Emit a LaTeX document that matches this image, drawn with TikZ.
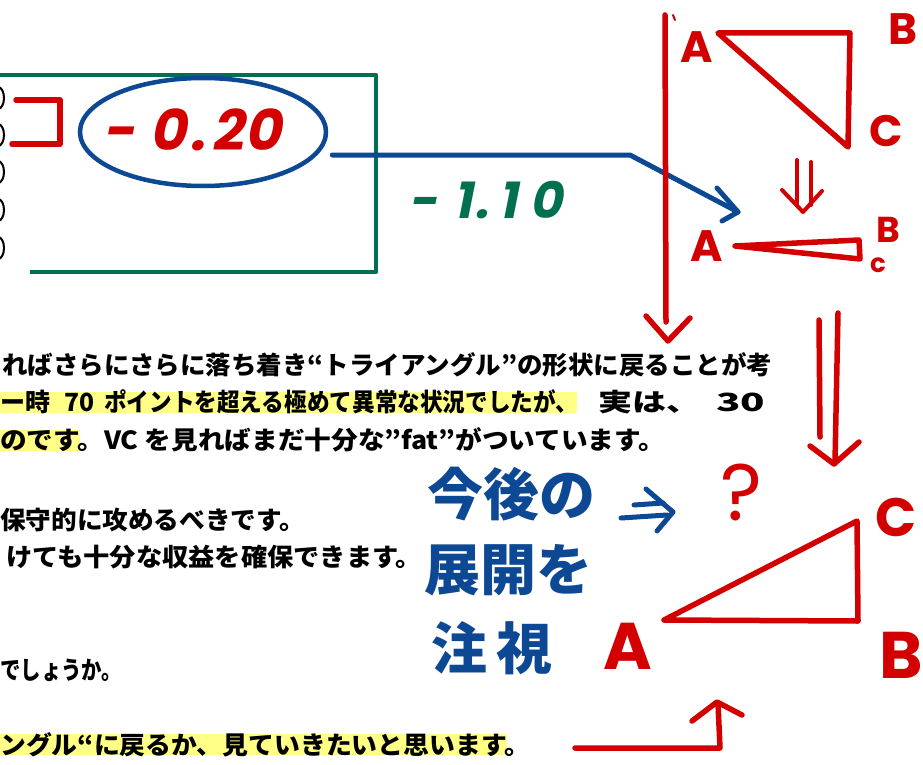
\documentclass[tikz,border=0pt]{standalone}
\usepackage{graphicx}
\usepackage{fontspec}
\setmainfont{Liberation Sans}
\newfontfamily\jpb{Noto Sans CJK JP}
\newfontfamily\hand{Poppins}
\newfontfamily\handsl[FakeSlant=0.2]{Poppins}
\usetikzlibrary{shapes.geometric}
\definecolor{penred}{RGB}{210,0,0}
\definecolor{penblue}{RGB}{12,72,148}
\definecolor{pengreen}{RGB}{0,112,80}
\definecolor{hlyellow}{RGB}{255,255,136}
\newcommand{\fitline}[2]{\resizebox{#1pt}{\height}{#2}}
\begin{document}
\begin{tikzpicture}[x=1pt,y=-1pt,
  redpen/.style={draw=penred,line width=5.5pt,line cap=round,line join=round},
  bluepen/.style={draw=penblue,line width=5pt,line cap=round,line join=round},
  greenpen/.style={draw=pengreen,line width=4pt,line join=round},
  body/.style={anchor=west,inner sep=0pt,font=\jpb\bfseries\fontsize{25}{25}\selectfont},
  hl/.style={fill=hlyellow,draw=none},
  lbl/.style={text=penred,font=\hand\bfseries\fontsize{44}{44}\selectfont,inner sep=0pt},
  bighand/.style={text=penblue,font=\jpb\bfseries\fontsize{56}{56}\selectfont,inner sep=0pt},
]
\useasboundingbox (0,0) rectangle (923,765);
\fill[white] (0,0) rectangle (923,765);

% green box
\coordinate (g1) at (-5,75);
\coordinate (g2) at (376,75);
\coordinate (g3) at (376,272);
\coordinate (g4) at (30,272);
\draw[greenpen] (g1) -- (g2) -- (g3) -- (g4);

% partial circles at left edge
\foreach \y in {98,135,172,210,248}
  \draw[black,line width=2pt] (-2,\y) ellipse [x radius=6, y radius=11];

% red bracket
\draw[redpen] (16,100) -- (60,100) -- (60,144) -- (12,144);

% ellipse and value
\node[ellipse,draw=penblue,line width=4.5pt,minimum width=246pt,minimum height=108pt] (ell) at (203,132) {};
\node[text=penred,font=\handsl\bfseries\fontsize{56}{56}\selectfont,inner sep=0pt] (v1) at (192,130) {-\hspace{14pt}0\hspace{4pt}.\hspace{6pt}2\hspace{1pt}0};

% green value
\node[text=pengreen,font=\handsl\bfseries\fontsize{50}{50}\selectfont,inner sep=0pt] (v2) at (485,200) {-\hspace{16pt}1\hspace{2pt}.\hspace{10pt}1\hspace{12pt}0};

% blue connector
\coordinate (bend) at (630,155);
\coordinate (tip) at (738,212);
\draw[bluepen] ([xshift=4pt]ell.east |- bend) -- (bend) -- (tip);
\draw[bluepen] (717,188) -- (tip) -- (722,221);

% red vertical arrow
\coordinate (vtop) at (665,15);
\coordinate (vend) at (666,322);
\coordinate (vtip) at (668,341);
\draw[redpen] (vtop) -- (vend);
\draw[redpen,line width=2pt] (673,15) -- (675,20);
\draw[redpen] (646,316) -- (vtip) -- (690,318);

% top triangle
\coordinate (ta) at (718,33);
\coordinate (tb) at (850,33);
\coordinate (tc) at (848,147);
\draw[redpen] (ta) -- (tb) -- (tc) -- cycle;
\node[lbl] (la1) at (697,47) {A};
\node[lbl] (lb1) at (903,29) {B};
\node[lbl] (lc1) at (886,131) {C};

% small double arrow
\draw[redpen,line width=4pt] (797,160) -- (797,204);
\draw[redpen,line width=4pt] (811,162) -- (811,205);
\draw[redpen,line width=4pt] (782,190) -- (803,212) -- (822,191);

% flat triangle
\coordinate (fa) at (735,246);
\coordinate (fb) at (859,240);
\coordinate (fc) at (860,259);
\draw[redpen] (fa) -- (fb) -- (fc) -- cycle;
\node[lbl] (la2) at (707,246) {A};
\node[lbl,font=\hand\bfseries\fontsize{36}{36}\selectfont] (lb2) at (888,230) {B};
\node[lbl,font=\hand\bfseries\fontsize{26}{26}\selectfont] (lc2) at (878,265) {c};

% big double arrow
\draw[redpen] (819,320) -- (820,437);
\draw[redpen] (838,313) -- (835,462);
\draw[redpen] (810,446) -- (834,464) -- (859,442);

% bottom triangle
\coordinate (ba) at (664,620);
\coordinate (bb) at (858,621);
\coordinate (bc) at (857,521);
\draw[redpen] (ba) -- (bb) -- (bc) -- cycle;
\node[lbl,font=\hand\bfseries\fontsize{66}{66}\selectfont] (la3) at (628,646) {A};
\node[lbl,font=\hand\bfseries\fontsize{54}{54}\selectfont] (lc3) at (896,517) {C};
\node[lbl,font=\hand\bfseries\fontsize{66}{66}\selectfont] (lb3) at (901,655) {B};
\node[lbl,font=\hand\fontsize{80}{80}\selectfont] (q) at (741,492) {?};

% bottom arrow
\coordinate (r1) at (575,748);
\coordinate (r2) at (720,748);
\coordinate (r3) at (718,703);
\draw[redpen] (r1) -- (r2) -- (r3);
\draw[redpen] (692,721) -- (717,702) -- (742,715);

% blue implies arrow
\draw[bluepen] (634,505) -- (663,503);
\draw[bluepen] (621,518) -- (667,515);
\draw[bluepen] (646,489) -- (673,512) -- (657,531);

% blue handwritten note
\node[bighand] (n1) at (511,494) {今後の};
\node[bighand] (n2) at (508,570) {展開を};
\node[bighand] (n3) at (492,648) {注\hspace{10pt}視};

% highlights
\fill[hl] (0,392) rectangle (577,413);
\fill[hl] (0,430) rectangle (80,451);
\fill[hl] (0,734) rectangle (507,755);

% body text
\node[body] (t1) at (2,365) {\fitline{770}{ればさらにさらに落ち着き“トライアングル”の形状に戻ることが考}};
\node[body] (t2a) at (0,402) {\fitline{50}{ー時}};
\node[body] (t2b) at (64,402) {\fitline{30}{70}};
\node[body] (t2c) at (104,402) {\fitline{474}{ポイントを超える極めて異常な状況でしたが、}};
\node[body] (t2d) at (598,402) {\fitline{102}{実は、}};
\node[body] (t2e) at (716,402) {\fitline{49}{30}};
\node[body] (t3) at (0,440) {\fitline{665}{のです。VC を見ればまだ十分な”fat”がついています。}};
\node[body] (t4) at (0,520) {\fitline{305}{保守的に攻めるべきです。}};
\node[body] (t5) at (6,557) {\fitline{416}{けても十分な収益を確保できます。}};
\node[body] (t6) at (0,670) {\fitline{122}{でしょうか。}};
\node[body] (t7) at (0,745) {\fitline{530}{ングル“に戻るか、見ていきたいと思います。}};
\end{tikzpicture}
\end{document}
